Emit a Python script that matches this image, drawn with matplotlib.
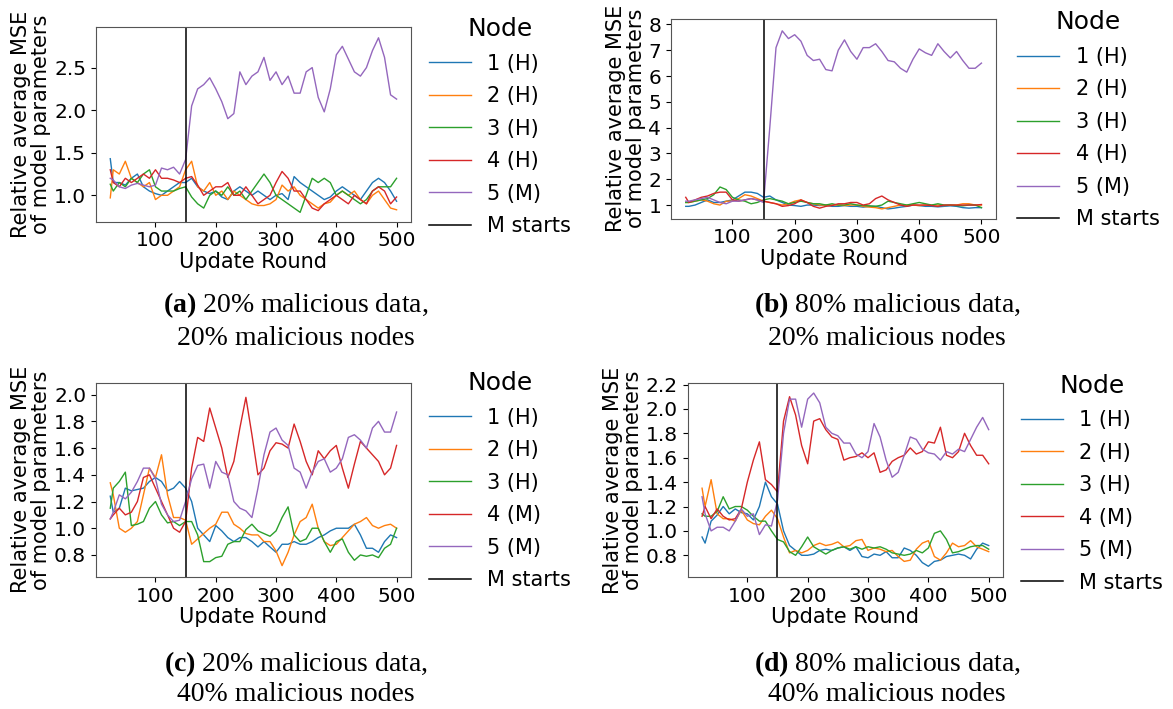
import matplotlib
matplotlib.use("Agg")
import matplotlib.pyplot as plt

plt.rcParams['mathtext.fontset'] = 'custom'
plt.rcParams['mathtext.bf'] = 'Liberation Serif:bold'
plt.rcParams['mathtext.rm'] = 'Liberation Serif'

# Update rounds (x-axis samples)
rounds = [25] + list(range(30, 501, 10))

node_labels_a = ["1 (H)", "2 (H)", "3 (H)", "4 (H)", "5 (M)"]
node_labels_b = ["1 (H)", "2 (H)", "3 (H)", "4 (H)", "5 (M)"]
node_labels_c = ["1 (H)", "2 (H)", "3 (H)", "4 (M)", "5 (M)"]
node_labels_d = ["1 (H)", "2 (H)", "3 (H)", "4 (M)", "5 (M)"]

# ---- (a) 20% malicious data, 20% malicious nodes ----
a_n1 = [1.43, 1.15, 1.15, 1.12, 1.2, 1.25, 1.1, 1.05, 1.02, 1.0,
        1.05, 1.1, 1.15, 1.15, 1.2, 1.1, 1.05, 1.02, 1.05, 0.98,
        0.95, 1.05, 1.1, 1.05, 1.0, 1.05, 1.0, 0.95, 1.0, 1.02,
        0.95, 1.22, 1.15, 1.1, 1.05, 1.0, 0.95, 0.98, 1.05, 1.1,
        1.05, 1.0, 0.95, 1.05, 1.15, 1.2, 1.15, 1.05, 0.93]
a_n2 = [0.97, 1.3, 1.25, 1.4, 1.2, 1.15, 1.1, 1.15, 0.95, 1.0,
        1.0, 1.05, 1.1, 1.3, 1.4, 1.1, 1.05, 1.15, 1.0, 1.05,
        0.95, 1.05, 1.0, 0.95, 0.9, 0.88, 0.88, 0.9, 0.95, 1.12,
        1.05, 1.1, 1.0, 0.95, 0.9, 0.85, 0.9, 0.92, 1.0, 1.05,
        1.0, 1.05, 0.95, 0.9, 1.0, 1.05, 0.95, 0.85, 0.83]
a_n3 = [1.13, 1.05, 1.15, 1.1, 1.2, 1.15, 1.25, 1.3, 1.1, 1.05,
        1.05, 1.05, 1.08, 1.1, 0.98, 0.9, 0.85, 1.0, 1.05, 1.0,
        1.1, 1.0, 1.05, 0.95, 1.05, 1.15, 1.25, 1.15, 1.0, 0.95,
        0.9, 0.85, 0.8, 1.0, 1.2, 1.15, 1.2, 1.15, 1.0, 1.05,
        1.0, 0.95, 0.9, 0.95, 1.05, 1.1, 1.1, 1.1, 1.2]
a_n4 = [1.3, 1.15, 1.1, 1.2, 1.15, 1.2, 1.25, 1.2, 1.3, 1.2,
        1.2, 1.18, 1.15, 1.2, 1.22, 1.12, 1.0, 1.05, 1.1, 1.1,
        1.15, 1.0, 1.0, 1.1, 1.0, 0.9, 0.95, 1.0, 1.15, 1.28,
        1.2, 1.05, 1.05, 0.95, 0.85, 0.82, 0.9, 0.95, 1.0, 0.95,
        0.9, 1.0, 0.95, 0.9, 1.05, 1.1, 1.05, 0.9, 0.98]
a_n5 = [1.2, 1.18, 1.1, 1.08, 1.12, 1.14, 1.12, 1.1, 1.12, 1.32,
        1.3, 1.33, 1.25, 1.42, 2.05, 2.25, 2.3, 2.38, 2.25, 2.1,
        1.9, 1.96, 2.45, 2.3, 2.4, 2.45, 2.62, 2.35, 2.45, 2.3,
        2.4, 2.2, 2.2, 2.45, 2.5, 2.15, 1.98, 2.25, 2.65, 2.75,
        2.6, 2.45, 2.4, 2.5, 2.7, 2.85, 2.62, 2.18, 2.13]

# ---- (b) 80% malicious data, 20% malicious nodes ----
b_n1 = [0.95, 0.95, 1.0, 1.1, 1.2, 1.1, 1.1, 1.15, 1.2, 1.35,
        1.5, 1.5, 1.45, 1.3, 1.35, 1.2, 1.1, 1.0, 0.98, 0.95,
        1.0, 1.0, 0.98, 1.0, 0.95, 0.95, 0.98, 0.95, 0.95, 0.92,
        0.95, 0.95, 0.9, 0.85, 0.88, 0.92, 0.95, 1.0, 0.98, 0.95,
        0.95, 0.93, 0.95, 0.97, 0.95, 0.9, 0.88, 0.9, 0.9]
b_n2 = [1.1, 1.1, 1.15, 1.2, 1.15, 1.05, 1.0, 1.15, 1.15, 1.25,
        1.4, 1.35, 1.25, 1.15, 1.1, 1.05, 1.0, 1.05, 1.15, 1.2,
        1.1, 1.05, 1.0, 1.0, 1.0, 1.0, 0.98, 1.0, 1.0, 0.95,
        0.92, 0.9, 0.85, 0.9, 0.95, 1.0, 1.0, 1.0, 0.98, 1.0,
        1.0, 1.0, 0.98, 1.0, 1.0, 1.05, 1.05, 1.0, 1.0]
b_n3 = [1.1, 1.1, 1.15, 1.2, 1.25, 1.4, 1.7, 1.6, 1.3, 1.2,
        1.15, 1.05, 1.1, 1.2, 1.25, 1.2, 1.15, 1.05, 1.1, 1.15,
        1.1, 1.05, 1.05, 1.0, 1.05, 1.0, 1.0, 1.05, 1.0, 0.98,
        0.97, 0.95, 1.0, 1.15, 1.1, 1.05, 1.0, 1.05, 1.1, 1.05,
        1.0, 1.05, 1.0, 1.0, 0.98, 0.97, 1.0, 1.0, 0.9]
b_n4 = [1.3, 1.1, 1.2, 1.3, 1.35, 1.45, 1.5, 1.5, 1.2, 1.15,
        1.2, 1.25, 1.2, 1.15, 1.1, 1.05, 0.95, 0.98, 1.05, 1.2,
        1.1, 0.95, 0.88, 0.95, 0.98, 1.05, 1.05, 1.1, 1.1, 1.0,
        1.05, 1.25, 1.35, 1.2, 1.1, 1.0, 0.95, 1.0, 1.0, 1.0,
        0.98, 0.95, 1.0, 1.0, 1.0, 1.0, 1.0, 1.0, 1.02]
b_n5 = [1.15, 1.15, 1.2, 1.25, 1.3, 1.2, 1.1, 1.05, 1.15, 1.15,
        1.2, 1.25, 1.2, 1.1, 4.0, 7.1, 7.75, 7.45, 7.6, 7.35,
        6.8, 6.6, 6.65, 6.25, 6.2, 7.0, 7.4, 6.95, 6.65, 7.1,
        7.1, 7.25, 6.95, 6.6, 6.55, 6.3, 6.15, 6.65, 7.05, 6.9,
        6.8, 7.25, 6.95, 6.7, 6.95, 6.6, 6.3, 6.3, 6.5]

# ---- (c) 20% malicious data, 40% malicious nodes ----
c_n1 = [1.24, 1.12, 1.15, 1.3, 1.28, 1.29, 1.3, 1.35, 1.38, 1.35,
        1.28, 1.3, 1.35, 1.3, 1.2, 1.0, 0.95, 0.9, 1.02, 0.98,
        0.93, 0.9, 0.93, 0.93, 0.9, 0.86, 0.9, 0.86, 0.82, 0.88,
        0.88, 0.9, 0.88, 0.88, 0.9, 0.93, 0.95, 0.98, 1.0, 1.0,
        1.0, 1.03, 0.95, 0.85, 0.85, 0.82, 0.9, 0.95, 0.93]
c_n2 = [1.34, 1.25, 1.0, 0.97, 1.0, 1.05, 1.25, 1.45, 1.38, 1.55,
        1.25, 1.08, 1.08, 1.06, 0.88, 0.92, 0.96, 1.0, 1.03, 1.12,
        1.12, 1.03, 1.0, 0.96, 0.95, 0.95, 0.9, 0.9, 0.83, 0.72,
        0.82, 0.95, 1.05, 1.08, 1.18, 1.0, 0.9, 0.87, 0.88, 0.93,
        0.98, 1.03, 1.05, 1.08, 1.02, 1.0, 1.02, 1.03, 1.0]
c_n3 = [1.15, 1.3, 1.35, 1.42, 1.02, 1.03, 1.05, 1.15, 1.2, 1.1,
        1.04, 1.05, 1.02, 1.05, 1.05, 0.95, 0.75, 0.75, 0.78, 0.79,
        0.88, 0.9, 0.9, 0.99, 1.03, 0.98, 0.96, 0.94, 0.98, 1.08,
        1.16, 0.95, 0.9, 0.92, 1.0, 1.0, 0.9, 0.82, 0.9, 0.92,
        0.82, 0.76, 0.8, 0.79, 0.8, 0.78, 0.85, 0.88, 1.0]
c_n4 = [1.07, 1.1, 1.15, 1.1, 1.12, 1.2, 1.38, 1.4, 1.3, 1.2,
        1.1, 1.0, 0.97, 1.05, 1.45, 1.68, 1.65, 1.9, 1.75, 1.6,
        1.38, 1.5, 1.75, 1.98, 1.7, 1.4, 1.45, 1.58, 1.64, 1.63,
        1.6, 1.78, 1.65, 1.5, 1.4, 1.58, 1.52, 1.58, 1.62, 1.45,
        1.3, 1.48, 1.65, 1.6, 1.55, 1.5, 1.4, 1.45, 1.62]
c_n5 = [1.07, 1.12, 1.25, 1.22, 1.27, 1.35, 1.45, 1.45, 1.37, 1.18,
        1.1, 1.05, 1.06, 1.2, 1.37, 1.47, 1.48, 1.3, 1.5, 1.42,
        1.4, 1.2, 1.15, 1.13, 1.08, 1.3, 1.55, 1.72, 1.75, 1.66,
        1.62, 1.45, 1.42, 1.3, 1.42, 1.5, 1.52, 1.42, 1.45, 1.52,
        1.68, 1.7, 1.66, 1.6, 1.75, 1.8, 1.72, 1.72, 1.87]

# ---- (d) 80% malicious data, 40% malicious nodes ----
d_n1 = [0.95, 0.9, 1.08, 1.13, 1.2, 1.14, 1.18, 1.15, 1.14, 1.09,
        1.2, 1.4, 1.28, 1.22, 1.0, 0.88, 0.84, 0.8, 0.8, 0.81,
        0.84, 0.85, 0.84, 0.86, 0.87, 0.84, 0.87, 0.79, 0.78, 0.81,
        0.8, 0.83, 0.78, 0.78, 0.86, 0.84, 0.8, 0.74, 0.71, 0.75,
        0.76, 0.79, 0.8, 0.81, 0.8, 0.77, 0.85, 0.9, 0.88]
d_n2 = [1.35, 1.2, 1.42, 1.14, 1.1, 1.1, 1.08, 1.17, 1.09, 1.06,
        1.05, 1.12, 1.17, 1.1, 0.95, 0.82, 0.84, 0.82, 0.84, 0.88,
        0.9, 0.88, 0.89, 0.91, 0.87, 0.88, 0.92, 0.93, 0.84, 0.86,
        0.85, 0.83, 0.84, 0.79, 0.75, 0.76, 0.85, 0.9, 0.92, 0.79,
        0.76, 0.82, 0.9, 0.87, 0.88, 0.92, 0.87, 0.85, 0.83]
d_n3 = [1.14, 1.12, 1.12, 1.16, 1.28, 1.18, 1.2, 1.2, 1.17, 1.12,
        1.08, 1.08, 1.0, 0.93, 0.91, 0.83, 0.8, 0.87, 0.95, 0.87,
        0.84, 0.81, 0.84, 0.86, 0.87, 0.85, 0.87, 0.85, 0.87, 0.86,
        0.87, 0.85, 0.82, 0.81, 0.8, 0.81, 0.84, 0.82, 0.86, 0.98,
        1.0, 0.93, 0.82, 0.83, 0.85, 0.87, 0.88, 0.88, 0.85]
d_n4 = [1.12, 1.2, 1.1, 1.18, 1.12, 1.09, 1.1, 1.18, 1.4, 1.58,
        1.73, 1.42, 1.38, 1.32, 1.9, 2.1, 1.95, 1.7, 1.55, 1.9,
        1.92, 1.83, 1.77, 1.75, 1.58, 1.6, 1.61, 1.64, 1.6, 1.64,
        1.48, 1.5, 1.57, 1.6, 1.62, 1.68, 1.63, 1.65, 1.73, 1.72,
        1.85, 1.62, 1.6, 1.65, 1.8, 1.7, 1.62, 1.62, 1.55]
d_n5 = [1.28, 1.14, 1.0, 1.03, 1.03, 1.0, 1.08, 1.18, 1.12, 1.14,
        0.97, 1.05, 1.04, 1.25, 1.8, 2.08, 2.08, 1.85, 2.08, 2.13,
        2.05, 1.85, 1.8, 1.78, 1.72, 1.72, 1.63, 1.6, 1.65, 1.88,
        1.77, 1.58, 1.44, 1.48, 1.62, 1.77, 1.75, 1.67, 1.64, 1.63,
        1.58, 1.65, 1.63, 1.67, 1.65, 1.75, 1.85, 1.93, 1.83]

m_start = 150
xticks = [100, 200, 300, 400, 500]

captions = [
    ("$\\mathbf{(a)}$ 20% malicious data,", "20% malicious nodes"),
    ("$\\mathbf{(b)}$ 80% malicious data,", "20% malicious nodes"),
    ("$\\mathbf{(c)}$ 20% malicious data,", "40% malicious nodes"),
    ("$\\mathbf{(d)}$ 80% malicious data,", "40% malicious nodes"),
]

panels = [
    dict(series=[a_n1, a_n2, a_n3, a_n4, a_n5], labels=node_labels_a,
         rect=[0.0818, 0.6873, 0.2685, 0.2750], ylim=(0.69, 2.98),
         yticks=[1.0, 1.5, 2.0, 2.5], yfmt="{:.1f}", cap_x=0.2523, cap_y=(0.5600, 0.5130),
         leg=(0.998, 1.146)),
    dict(series=[b_n1, b_n2, b_n3, b_n4, b_n5], labels=node_labels_b,
         rect=[0.5720, 0.6915, 0.2773, 0.2821], ylim=(0.47, 8.22),
         yticks=[1, 2, 3, 4, 5, 6, 7, 8], yfmt="{:.0f}", cap_x=0.7562, cap_y=(0.5600, 0.5130),
         leg=(1.007, 1.135)),
    dict(series=[c_n1, c_n2, c_n3, c_n4, c_n5], labels=node_labels_c,
         rect=[0.0818, 0.1862, 0.2685, 0.2741], ylim=(0.635, 2.09),
         yticks=[0.8, 1.0, 1.2, 1.4, 1.6, 1.8, 2.0], yfmt="{:.1f}", cap_x=0.2523, cap_y=(0.0536, 0.0110),
         leg=(0.998, 1.156)),
    dict(series=[d_n1, d_n2, d_n3, d_n4, d_n5], labels=node_labels_d,
         rect=[0.5863, 0.1858, 0.2688, 0.2736], ylim=(0.62, 2.21),
         yticks=[0.8, 1.0, 1.2, 1.4, 1.6, 1.8, 2.0, 2.2], yfmt="{:.1f}", cap_x=0.7562, cap_y=(0.0536, 0.0110),
         leg=(0.998, 1.146)),
]

colors = ["tab:blue", "tab:orange", "tab:green", "tab:red", "tab:purple"]

fig = plt.figure(figsize=(11.73, 7.09), dpi=100)

for p, cap in zip(panels, captions):
    ax = fig.add_axes(p["rect"])
    for s, lab, c in zip(p["series"], p["labels"], colors):
        ax.plot(rounds, s, color=c, lw=1.0, label=lab)
    ax.axvline(m_start, color="black", lw=1.1, label="M starts")
    ax.set_xlim(1.25, 523.75)
    ax.set_ylim(*p["ylim"])
    ax.set_xticks(xticks)
    ax.set_yticks(p["yticks"])
    ax.set_yticklabels([p["yfmt"].format(v) for v in p["yticks"]])
    ax.tick_params(labelsize=14.5)
    ax.set_xlabel("Update Round", fontsize=15, labelpad=1)
    ax.set_ylabel("Relative average MSE\nof model parameters", fontsize=15, labelpad=2,
                  linespacing=1.0)
    for sp in ax.spines.values():
        sp.set_color("#555555")
    ax.legend(title="Node", loc="upper left", bbox_to_anchor=p["leg"], frameon=False,
              fontsize=15, title_fontsize=18, handlelength=2.0, labelspacing=0.6)
    fig.text(p["cap_x"], p["cap_y"][0], cap[0], ha="center", va="baseline",
             fontsize=20, family="Liberation Serif")
    fig.text(p["cap_x"], p["cap_y"][1], cap[1], ha="center", va="baseline",
             fontsize=20, family="Liberation Serif")

fig.savefig("out.png", dpi=100)
